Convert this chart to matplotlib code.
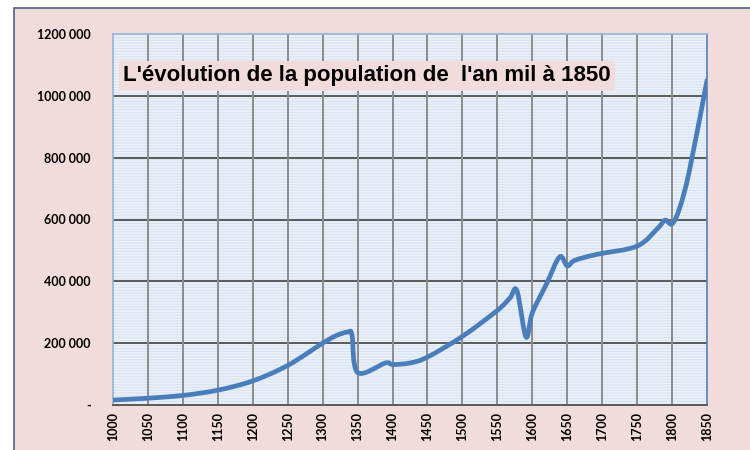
import matplotlib
matplotlib.use("Agg")
import matplotlib.pyplot as plt
from matplotlib.path import Path
from matplotlib.patches import PathPatch, Rectangle
import numpy as np

years = [1000, 1050, 1100, 1150, 1200, 1250, 1300, 1320, 1336, 1342, 1350, 1390, 1400,
         1425, 1450, 1500, 1550, 1568, 1578, 1591, 1600, 1620, 1639, 1650, 1661,
         1692, 1750, 1780, 1790, 1800, 1811, 1825, 1850]
population = [16000, 22000, 31000, 48000, 78000, 128000, 200000, 225000, 236000, 226000,
              105000, 136000, 131000, 136000, 155000, 222000, 306000, 346000, 370000,
              220000, 298000, 390000, 479000, 450000, 468000, 487000, 514000, 573000,
              598000, 586000, 638000, 760000, 1050000]

x_ticks = list(range(1000, 1851, 50))
y_ticks = [0, 200000, 400000, 600000, 800000, 1000000, 1200000]
y_labels = ["-", "200 000", "400 000", "600 000", "800 000", "1000 000", "1200 000"]
title = "L'évolution de la population de  l'an mil à 1850"

plt.rcParams['font.family'] = ['Lato', 'DejaVu Sans']
plt.rcParams['hatch.linewidth'] = 0.8

fig = plt.figure(figsize=(7.5, 4.5), dpi=100, facecolor='white')
# chart area background with frame (top & left border)
bg_ax = fig.add_axes([0, 0, 1, 1], zorder=0)
bg_ax.set_axis_off()
bg_ax.set_xlim(0, 750)
bg_ax.set_ylim(450, 0)
bg_ax.add_patch(Rectangle((14, 8), 760, 460, facecolor='#f2dcdb',
                          edgecolor='#4f6281', linewidth=1.2))

ax = fig.add_axes([113 / 750, 1 - 405 / 450, 594 / 750, 371 / 450], zorder=2)
ax.set_facecolor('#ebf1f9')
stripes = Rectangle((0, 0), 1, 1, transform=ax.transAxes, facecolor='none',
                    edgecolor='#d8e2f0', hatch='------', linewidth=0, zorder=0)
ax.add_patch(stripes)

ax.set_xlim(1000, 1850)
ax.set_ylim(0, 1200000)
ax.set_xticks(x_ticks)
ax.set_xticklabels([str(v) for v in x_ticks], rotation=90, fontweight='bold',
                   fontsize=9)
ax.set_yticks(y_ticks)
ax.set_yticklabels(y_labels, fontweight='bold', fontsize=9)
ax.tick_params(axis='y', length=0, pad=16)
ax.tick_params(axis='x', length=0, pad=5)

for v in y_ticks[1:-1]:
    ax.axhline(v, color='#5a5a5a', linewidth=1.4, zorder=1)
for v in x_ticks[1:-1]:
    ax.axvline(v, color='#8c8c8c', linewidth=1.4, zorder=1)

for s in ['left', 'top']:
    ax.spines[s].set_color('#95b3d7')
    ax.spines[s].set_linewidth(1.2)
ax.spines['right'].set_color('#4f81bd')
ax.spines['right'].set_linewidth(1.2)
ax.spines['bottom'].set_color('#5a5a5a')
ax.spines['bottom'].set_linewidth(1.4)

# Excel-like smoothed line (Catmull-Rom Bezier through the data points)
pts = np.column_stack([years, population]).astype(float)
n = len(pts)
verts = [tuple(pts[0])]
codes = [Path.MOVETO]
for i in range(n - 1):
    p0 = pts[i - 1] if i > 0 else pts[i]
    p1 = pts[i]
    p2 = pts[i + 1]
    p3 = pts[i + 2] if i + 2 < n else pts[i + 1]
    c1 = p1 + (p2 - p0) / 6.0
    c2 = p2 - (p3 - p1) / 6.0
    verts += [tuple(c1), tuple(c2), tuple(p2)]
    codes += [Path.CURVE4] * 3
path = Path(verts, codes)
ax.add_patch(PathPatch(path, facecolor='none', edgecolor='#4a7ebb',
                       linewidth=3.4, capstyle='round', joinstyle='round',
                       zorder=3))

fig.text(367 / 750, 1 - 76 / 450, title, ha='center', va='center',
         fontsize=16, fontweight='bold', family=['Liberation Sans', 'DejaVu Sans'],
         color='black', zorder=10,
         bbox=dict(boxstyle='square,pad=0.2', facecolor='#f2dcdb',
                   edgecolor='none'))

fig.savefig('out.png', dpi=100, facecolor=fig.get_facecolor())
